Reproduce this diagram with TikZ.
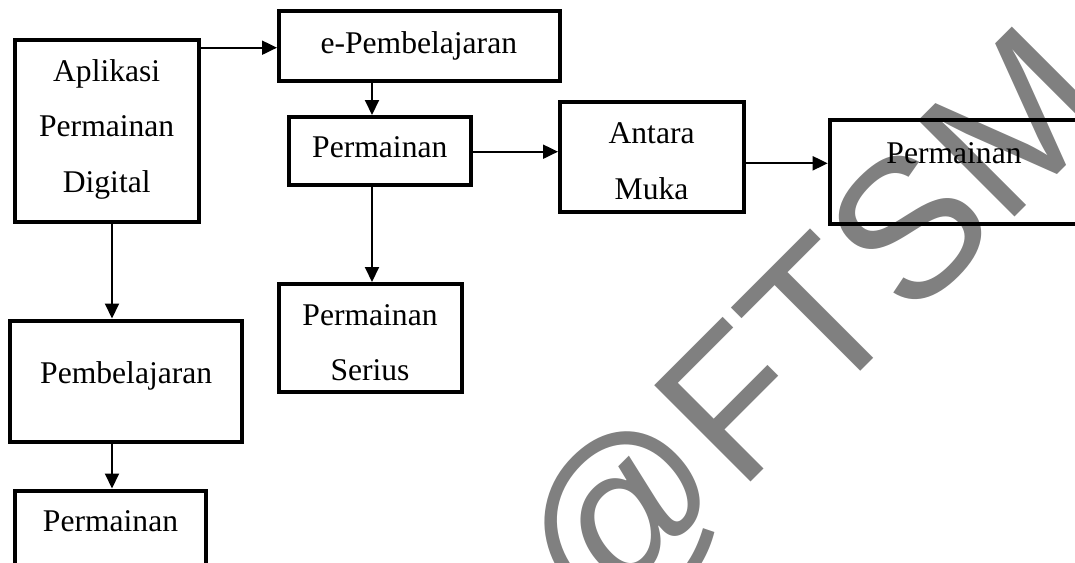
\documentclass[tikz,border=0pt]{standalone}
\usepackage{fontspec}
\setmainfont{Liberation Serif}
\newfontfamily\wmfont{Liberation Sans}
\usetikzlibrary{arrows.meta}
\begin{document}
\begin{tikzpicture}[x=1pt,y=-1pt,
  box/.style={draw=black, line width=4pt, rectangle, inner sep=0pt},
  lbl/.style={inner sep=0pt, anchor=base, font=\fontsize{31.6}{38}\selectfont},
  arr/.style={line width=2pt, -{Triangle[length=15pt,width=14pt]}},
  wmark/.style={text=black!50, inner sep=0pt, anchor=base west, rotate=45,
    font=\wmfont\fontsize{198}{198}\selectfont}]
\useasboundingbox (0,0) rectangle (1075,562);
\clip (0,0) rectangle (1075,562);
% watermark
\node[wmark] (wm) at (597,635.5) {@FTSM};
% boxes
\node[box, minimum width=183.5, minimum height=182] (A) at (106.75,131) {};
\node[box, minimum width=280.6, minimum height=69.5] (ep) at (419.3,45.75) {};
\node[box, minimum width=182.7, minimum height=67.5] (pm) at (380,150.75) {};
\node[box, minimum width=183.8, minimum height=110] (am) at (651.9,157) {};
\node[box, minimum width=260.3, minimum height=104.5] (rp) at (959.85,171.75) {};
\node[box, minimum width=183, minimum height=108] (sr) at (370.5,338) {};
\node[box, minimum width=232, minimum height=121] (pb) at (126.3,381) {};
\node[box, minimum width=191.3, minimum height=89.5] (bp) at (110.65,535.25) {};
% texts
\node[lbl] (tA1) at (106.7,81) {Aplikasi};
\node[lbl] (tA2) at (106.7,136.7) {Permainan};
\node[lbl] (tA3) at (106.7,192.7) {Digital};
\node[lbl] (tep) at (418.8,53.3) {e-Pembelajaran};
\node[lbl] (tpm) at (379.8,157.3) {Permainan};
\node[lbl] (tam1) at (651.6,143.3) {Antara};
\node[lbl] (tam2) at (651.6,199.3) {Muka};
\node[lbl] (trp) at (954,163.3) {Permainan};
\node[lbl] (tsr1) at (370,325) {Permainan};
\node[lbl] (tsr2) at (370,380) {Serius};
\node[lbl] (tpb) at (126.2,383.3) {Pembelajaran};
\node[lbl] (tbp) at (110.5,531.7) {Permainan};
% connectors
\coordinate (yA) at (0,47.7);
\coordinate (y152) at (0,151.7);
\coordinate (y163) at (0,163.3);
\coordinate (x372) at (372,0);
\coordinate (x112) at (112,0);
\draw[arr] (A.east |- yA) -- (ep.west |- yA);
\draw[arr] (ep.south -| x372) -- (pm.north -| x372);
\draw[arr] (pm.east |- y152) -- (am.west |- y152);
\draw[arr] (am.east |- y163) -- (rp.west |- y163);
\draw[arr] (pm.south -| x372) -- (sr.north -| x372);
\draw[arr] (A.south -| x112) -- (pb.north -| x112);
\draw[arr] (pb.south -| x112) -- (bp.north -| x112);
\end{tikzpicture}
\end{document}
